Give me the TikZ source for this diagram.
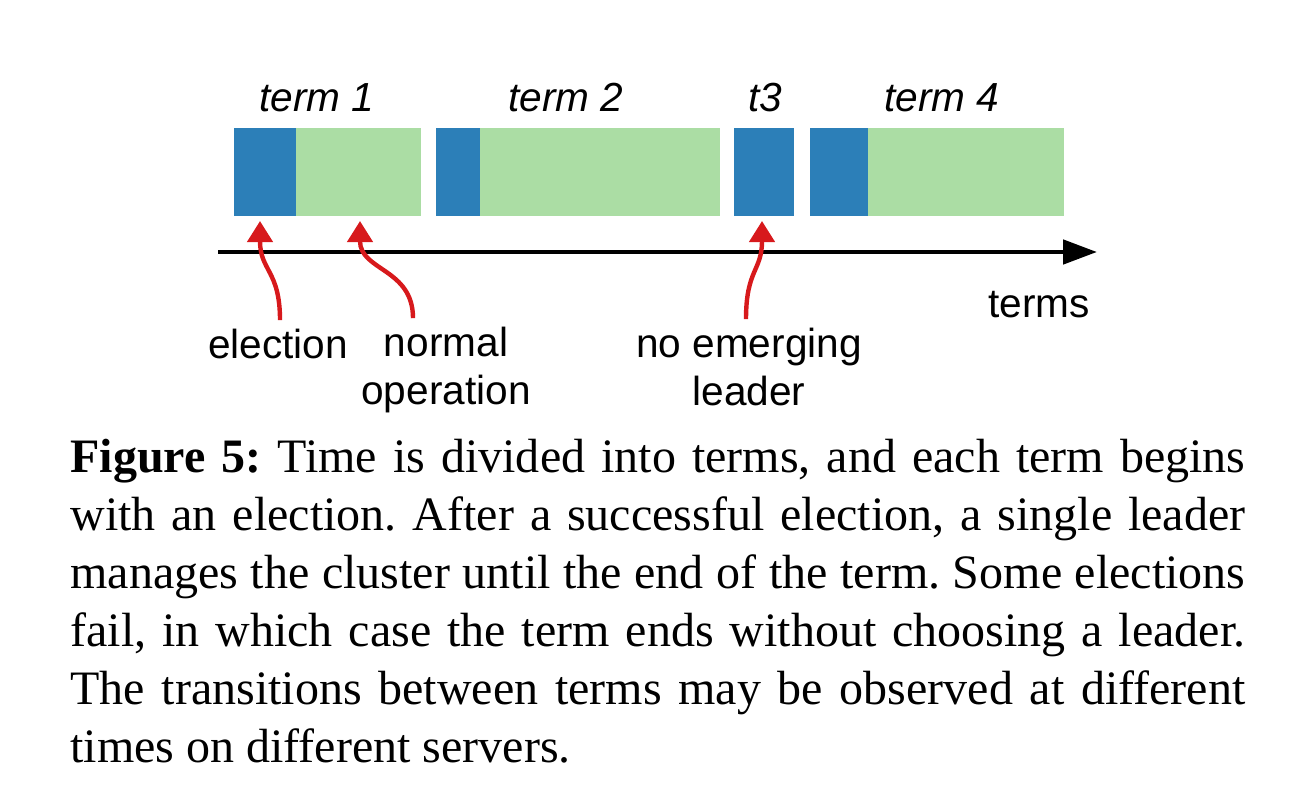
\documentclass[tikz,border=0pt]{standalone}
\usepackage{fontspec}
\setmainfont{Liberation Serif}
\setsansfont{Liberation Sans}
\usepackage{xcolor}
\definecolor{elecblue}{RGB}{44,127,184}
\definecolor{opgreen}{RGB}{171,221,164}
\definecolor{markred}{RGB}{215,25,28}
\usepackage{tikz}
\usetikzlibrary{arrows.meta, positioning}

\begin{document}
\frenchspacing
\begin{tikzpicture}[
    x=0.5pt, y=-0.5pt,
    seg/.style={
      rectangle, inner sep=0pt, outer sep=0pt,
      minimum height=44pt, anchor=west
    },
    elec/.style={seg, fill=elecblue},
    oper/.style={seg, fill=opgreen},
    termlabel/.style={font=\sffamily\itshape\fontsize{20.3}{24}\selectfont,
      anchor=base, inner sep=0pt},
    note/.style={font=\sffamily\fontsize{20.3}{24}\selectfont,
      align=center, inner sep=4pt, anchor=base},
    pointer/.style={-{Triangle[length=10.5pt, width=12.5pt]},
      line width=2.2pt, color=markred},
    axis/.style={-{Triangle[length=17pt, width=12pt]}, line width=2.4pt}
  ]
  \useasboundingbox (0,0) rectangle (1304,792);

  % Term bars
  \node[elec, minimum width=31pt] (el1) at (234,172) {};
  \node[oper, minimum width=62.5pt, right=0pt of el1]  (op1) {};
  \node[elec, minimum width=22pt, right=7.5pt of op1]  (el2) {};
  \node[oper, minimum width=120pt, right=0pt of el2]   (op2) {};
  \node[elec, minimum width=30pt, right=7pt of op2]    (el3) {};
  \node[elec, minimum width=29pt, right=8pt of el3]    (el4) {};
  \node[oper, minimum width=98pt, right=0pt of el4]    (op4) {};

  % Term names
  \node[termlabel] (t1) at (317,112) {term 1};
  \node[termlabel] (t2) at (566,112) {term 2};
  \node[termlabel] (t3) at (765,112) {t3};
  \node[termlabel] (t4) at (942,112) {term 4};

  % Time axis
  \coordinate (tstart) at (218,252);
  \coordinate (tend)   at (1097,252);
  \draw[axis] (tstart) -- (tend);
  \node[note] (terms) at (1039,317) {terms};

  % Notes below the axis (base = last line)
  \node[note] (lelec) at (278,358) {election};
  \node[note] (lnorm) at (446,404) {normal\\operation};
  \node[note] (lnoem) at (749,405) {no emerging\\leader};

  % Red pointers
  \draw[pointer] ([xshift=1pt]lelec.north)
    .. controls +(0,-50) and +(0,50) .. ([xshift=-2.5pt, yshift=-2.5pt]el1.south);
  \draw[pointer] ([xshift=-16.5pt]lnorm.north)
    .. controls +(0,-50) and +(0,50) .. ([xshift=0.75pt, yshift=-2.5pt]op1.south);
  \draw[pointer] ([xshift=-1.5pt]lnoem.north)
    .. controls +(0,-50) and +(0,50) .. ([xshift=-1pt, yshift=-2.5pt]el3.south);

  % Caption
  \node[anchor=north west, text width=587.5pt, align=justify, inner sep=0pt,
        font=\fontsize{24}{29}\selectfont] (caption) at (70,439)
    {\textbf{Figure 5:} Time is divided into terms, and each term begins\linebreak
     with an election. After a successful election, a single leader\linebreak
     manages the cluster until the end of the term. Some elections\linebreak
     fail, in which case the term ends without choosing a leader.\linebreak
     The transitions between terms may be observed at different\linebreak
     times on different servers.};

\end{tikzpicture}
\end{document}
